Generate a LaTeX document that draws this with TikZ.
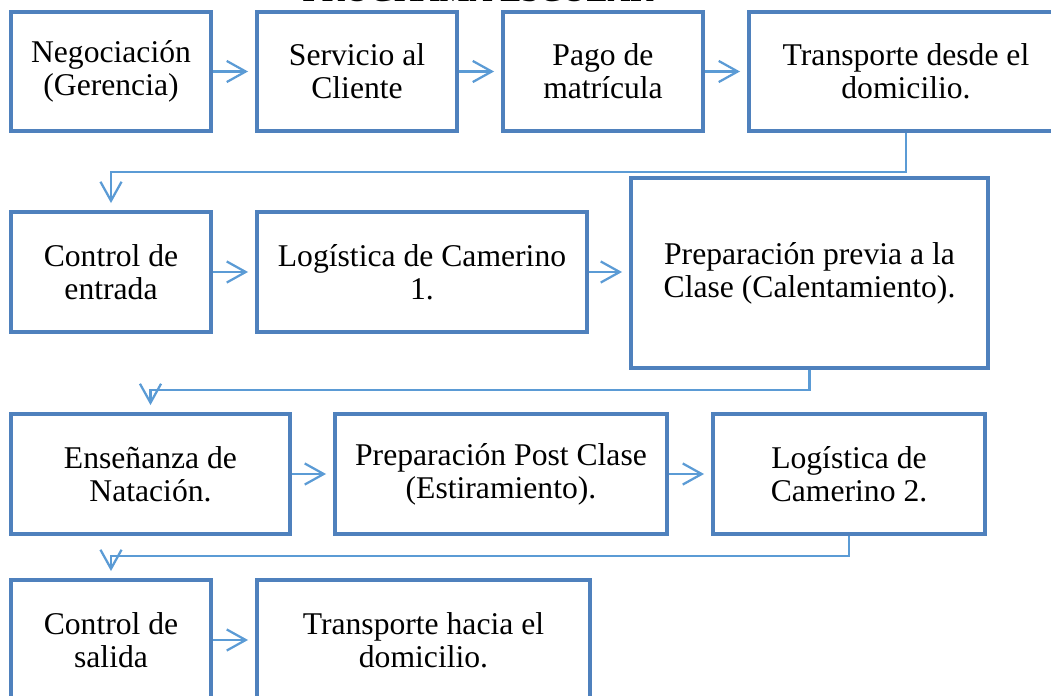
\documentclass[tikz,border=0pt]{standalone}
\usepackage{fontspec}
\setmainfont{Liberation Serif}
\usetikzlibrary{arrows.meta}
\definecolor{borde}{RGB}{79,129,189}
\definecolor{enlace}{RGB}{91,155,213}
\tikzset{
	caja/.style={draw=borde, line width=2.7pt, minimum height=2.975cm, align=center, inner sep=0pt,
		font=\fontsize{22.5}{23.5}\selectfont},
	flecha/.style={draw=enlace, line width=1.6pt, shorten >=5pt,
		-{Straight Barb[length=13.5pt, width=15pt, line width=1.6pt]}}
}

\begin{document}
\begin{tikzpicture}[x=0.025cm, y=-0.025cm]
		%%%%% START %%%%%
		
		\useasboundingbox (0, 0) rectangle (1051, 696);
		
		\node[font=\fontsize{22.5}{23.5}\selectfont\bfseries, anchor=base] (titulo) at (478, 2) {PROGRAMA ESCOLAR};
		
		\node[caja, minimum width=5cm] (neg) at (111, 71.5) {Negociación\\(Gerencia)};
		\node[caja, minimum width=5cm] (serv) at (357, 71.5) {Servicio al\\Cliente};
		\node[caja, minimum width=5cm] (pago) at (603, 71.5) {Pago de\\matrícula};
		\node[caja, minimum width=7.85cm] (ida) at (906, 71.5) {Transporte desde el\\domicilio.};
		
		\node[caja, minimum width=5cm, minimum height=3cm] (entrada) at (111, 272) {Control de\\entrada};
		\node[caja, minimum width=8.25cm, minimum height=3cm] (camA) at (422, 272) {Logística de Camerino\\1.};
		\node[caja, minimum width=8.925cm, minimum height=4.75cm] (previa) at (809.5, 273) {Preparación previa a la\\Clase (Calentamiento).};
		
		\node[caja, minimum width=6.975cm, minimum height=3cm] (natacion) at (150.5, 474) {Enseñanza de\\Natación.};
		\node[caja, minimum width=8.3cm, minimum height=3cm] (post) at (501, 474) {Preparación Post Clase\\(Estiramiento).};
		\node[caja, minimum width=6.8cm, minimum height=3cm] (camB) at (849, 474) {Logística de\\Camerino 2.};
		
		\node[caja, minimum width=5cm, minimum height=3cm] (salida) at (111, 640) {Control de\\salida};
		\node[caja, minimum width=8.325cm, minimum height=3cm] (vuelta) at (423.5, 640) {Transporte hacia el\\domicilio.};
		
		\draw[flecha] (neg.east) -- (serv.west);
		\draw[flecha] (serv.east) -- (pago.west);
		\draw[flecha] (pago.east) -- (ida.west);
		
		\coordinate (giroA) at (111, 172);
		\draw[flecha] (ida.south) |- (giroA) -- (entrada.north);
		
		\draw[flecha] (entrada.east) -- (camA.west);
		\draw[flecha] (camA.east) -- (camA.east -| previa.west);
		
		\coordinate (giroB) at (150.5, 390);
		\draw[flecha] (previa.south) |- (giroB) -- (natacion.north);
		
		\draw[flecha] (natacion.east) -- (post.west);
		\draw[flecha] (post.east) -- (camB.west);
		
		\coordinate (giroC) at (111, 556);
		\draw[flecha] (camB.south) |- (giroC) -- (salida.north);
		
		\draw[flecha] (salida.east) -- (vuelta.west);
		
		%%%%% END %%%%%
\end{tikzpicture}
\end{document}
